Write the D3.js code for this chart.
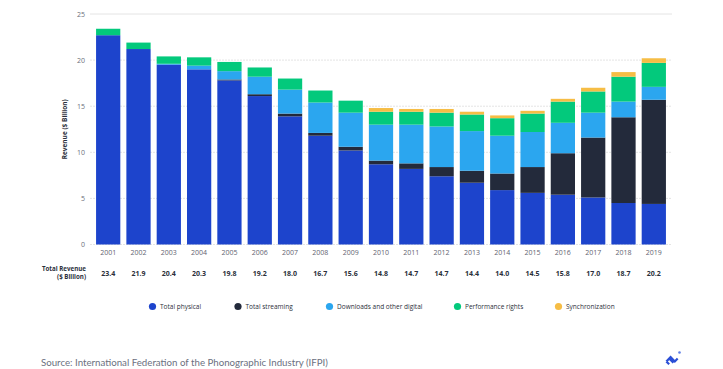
<!DOCTYPE html>
<html>
<head>
<meta charset="utf-8">
<script src="https://cdn.jsdelivr.net/npm/d3@7"></script>
<style>
  body { margin: 0; background: #fff; }
  svg { display: block; font-family: "Open Sans", "Liberation Sans", sans-serif; }
</style>
</head>
<body>
<div id="holder"></div>
<script>
var width = 723;
var height = 369;

var years = ["2001", "2002", "2003", "2004", "2005", "2006", "2007", "2008", "2009", "2010",
  "2011", "2012", "2013", "2014", "2015", "2016", "2017", "2018", "2019"];
var physical = [22.7, 21.2, 19.5, 19.0, 17.8, 16.1, 13.9, 11.8, 10.2, 8.7, 8.2, 7.4, 6.7, 5.9, 5.6, 5.4, 5.1, 4.5, 4.4];
var streaming = [0, 0, 0, 0, 0.1, 0.2, 0.3, 0.3, 0.4, 0.4, 0.6, 1.0, 1.3, 1.8, 2.8, 4.5, 6.5, 9.3, 11.3];
var downloads = [0, 0, 0.1, 0.4, 0.9, 1.9, 2.6, 3.3, 3.7, 3.9, 4.2, 4.4, 4.3, 4.1, 3.8, 3.3, 2.7, 1.7, 1.4];
var performance = [0.7, 0.7, 0.8, 0.9, 1.0, 1.0, 1.2, 1.3, 1.3, 1.4, 1.4, 1.5, 1.8, 1.9, 2.0, 2.3, 2.3, 2.7, 2.6];
var sync = [0, 0, 0, 0, 0, 0, 0, 0, 0, 0.4, 0.3, 0.4, 0.3, 0.3, 0.3, 0.3, 0.4, 0.5, 0.5];
var totals = ["23.4", "21.9", "20.4", "20.3", "19.8", "19.2", "18.0", "16.7", "15.6", "14.8",
  "14.7", "14.7", "14.4", "14.0", "14.5", "15.8", "17.0", "18.7", "20.2"];
var seriesNames = ["Total physical", "Total streaming", "Downloads and other digital", "Performance rights", "Synchronization"];
var colors = ["#1d44cc", "#232a3b", "#2ba6ef", "#03c97c", "#f6bd45"];
var yTicks = [0, 5, 10, 15, 20, 25];

var plotLeft = 90, plotRight = 672, plotTop = 14, plotBottom = 244.5;

var rows = years.map(function(y, i){
  return {year: y, s0: physical[i], s1: streaming[i], s2: downloads[i], s3: performance[i], s4: sync[i]};
});
var stack = d3.stack().keys(["s0", "s1", "s2", "s3", "s4"])(rows);

var x = d3.scaleBand().domain(years).range([plotLeft, plotRight]).paddingInner(0.2).paddingOuter(0.2);
var y = d3.scaleLinear().domain([0, 25]).range([plotBottom, plotTop]);

var svg = d3.select("#holder").append("svg")
  .attr("width", width)
  .attr("height", height);

// grid
svg.append("g").selectAll("line")
  .data(yTicks)
  .enter().append("line")
    .attr("x1", plotLeft)
    .attr("x2", plotRight)
    .attr("y1", d => y(d))
    .attr("y2", d => y(d))
    .attr("stroke", "#e4e4e4")
    .attr("stroke-width", 1)
    .attr("stroke-dasharray", d => d == 25 ? null : "2,1");

svg.append("g").selectAll("text")
  .data(yTicks)
  .enter().append("text")
    .attr("x", 85)
    .attr("y", d => y(d) + 2.5)
    .attr("text-anchor", "end")
    .attr("font-size", 7)
    .attr("fill", "#6b6f7a")
    .text(d => d);

svg.append("text")
  .attr("transform", "translate(67," + y(12.5) + ") rotate(-90)")
  .attr("text-anchor", "middle")
  .attr("font-size", 6.5)
  .attr("font-weight", "bold")
  .attr("fill", "#2b2f3a")
  .text("Revenue ($ Billion)");

// bars
svg.append("g").selectAll("g")
  .data(stack)
  .enter().append("g")
    .attr("fill", (d, i) => colors[i])
  .selectAll("rect")
    .data(d => d)
    .enter().append("rect")
      .attr("x", d => x(d.data.year))
      .attr("width", x.bandwidth())
      .attr("y", d => y(d[1]))
      .attr("height", d => y(d[0]) - y(d[1]));

// year labels
svg.append("g").selectAll("text")
  .data(years)
  .enter().append("text")
    .attr("x", d => x(d) + x.bandwidth() / 2)
    .attr("y", 255)
    .attr("text-anchor", "middle")
    .attr("font-size", 7)
    .attr("fill", "#5f6370")
    .text(d => d);

// totals row
svg.append("g").selectAll("text")
  .data(totals)
  .enter().append("text")
    .attr("x", (d, i) => x(years[i]) + x.bandwidth() / 2)
    .attr("y", 275.5)
    .attr("text-anchor", "middle")
    .attr("font-size", 7)
    .attr("font-weight", "bold")
    .attr("fill", "#2b2f3a")
    .text(d => d);

var tr = svg.append("text")
  .attr("text-anchor", "end")
  .attr("font-size", 6.2)
  .attr("font-weight", "bold")
  .attr("fill", "#2b2f3a");
tr.append("tspan").attr("x", 86).attr("y", 271).text("Total Revenue");
tr.append("tspan").attr("x", 86).attr("y", 278.5).text("($ Billion)");

// legend
var legendX = [152.5, 238, 329.5, 457.5, 558.5];
var legend = svg.append("g").selectAll("g")
  .data(seriesNames)
  .enter().append("g")
    .attr("transform", (d, i) => "translate(" + legendX[i] + ",306.5)");
legend.append("circle")
  .attr("r", 3.6)
  .attr("fill", (d, i) => colors[i]);
legend.append("text")
  .attr("x", 7.5)
  .attr("y", 2.3)
  .attr("font-size", 6.5)
  .attr("fill", "#2b2f3a")
  .text(d => d);

svg.append("text")
  .attr("x", 41)
  .attr("y", 366)
  .attr("font-size", 9.7)
  .attr("font-family", "Lato, sans-serif")
  .attr("fill", "#6b7080")
  .text("Source: International Federation of the Phonographic Industry (IFPI)");

// logo
var logo = svg.append("g").attr("transform", "translate(672,360) rotate(-45)");
logo.append("path")
  .attr("d", "M-5,-3 L1,-3 L1,3 L5,3 M-1,-3 L-1,3 M-5,-3 L-5,1")
  .attr("fill", "none")
  .attr("stroke", "#2b4fd6")
  .attr("stroke-width", 2.2);
svg.append("circle").attr("cx", 679.5).attr("cy", 352.5).attr("r", 1.3).attr("fill", "#5f7fe6");
</script>
</body>
</html>
